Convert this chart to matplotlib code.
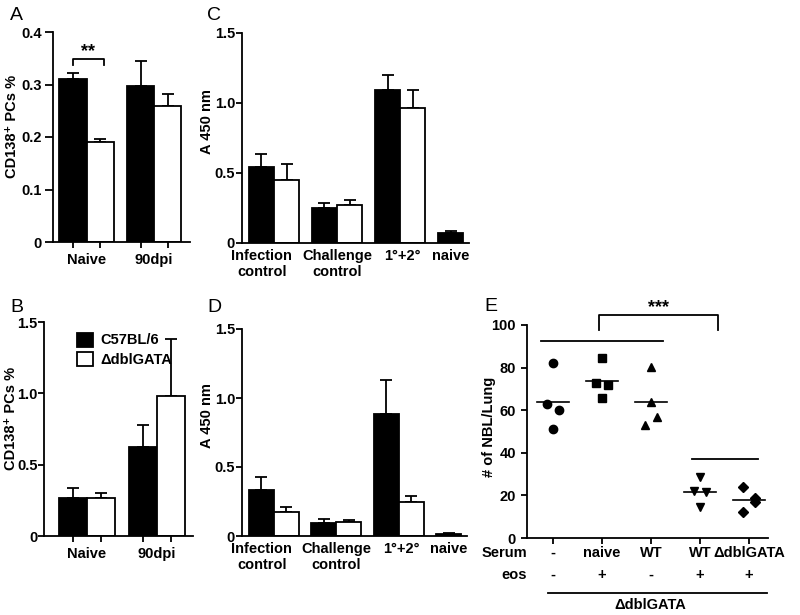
import numpy as np
import matplotlib.pyplot as plt
from matplotlib.patches import Patch

plt.rcParams['font.family'] = ['Liberation Sans', 'DejaVu Sans']
plt.rcParams['font.weight'] = 'bold'
plt.rcParams['axes.labelweight'] = 'bold'
plt.rcParams['font.size'] = 10

# ---- data ----
groups_ab = ['Naive', '90dpi']
a_c57 = [0.310, 0.298]
a_c57_sem = [0.011, 0.046]
a_dbl = [0.190, 0.260]
a_dbl_sem = [0.006, 0.022]

b_c57 = [0.266, 0.624]
b_c57_sem = [0.070, 0.154]
b_dbl = [0.266, 0.981]
b_dbl_sem = [0.035, 0.400]

groups_cd = ['Infection\ncontrol', 'Challenge\ncontrol', '1°+2°', 'naive']
c_c57 = [0.543, 0.250, 1.093, 0.071]
c_c57_sem = [0.093, 0.036, 0.107, 0.015]
c_dbl = [0.450, 0.271, 0.964]
c_dbl_sem = [0.114, 0.036, 0.129]

d_c57 = [0.333, 0.094, 0.884, 0.015]
d_c57_sem = [0.095, 0.029, 0.246, 0.005]
d_dbl = [0.174, 0.101, 0.246]
d_dbl_sem = [0.036, 0.015, 0.044]

serum = ['-', 'naive', 'WT', 'WT', 'ΔdblGATA']
eos = ['-', '+', '-', '+', '+']
e_vals = [
    [82.0, 62.8, 60.2, 51.1],
    [84.7, 72.8, 71.9, 65.9],
    [80.5, 63.9, 56.9, 53.1],
    [28.6, 22.3, 21.7, 14.5],
    [24.1, 18.9, 16.9, 12.1],
]
e_mid = [64.0, 73.9, 63.9, 21.4, 18.0]
e_marks = ['o', 's', '^', 'v', 'D']
e_jit = [
    [0, -0.12, 0.12, 0],
    [0, -0.12, 0.12, 0],
    [0, 0, 0.12, -0.12],
    [0, -0.13, 0.13, 0],
    [-0.13, 0.13, 0.13, -0.13],
]

W, H = 800, 615
fig = plt.figure(figsize=(8, 6.15), dpi=100)


def ax_px(l, t, r, b):
    return fig.add_axes([l / W, 1 - b / H, (r - l) / W, (b - t) / H])


def style(ax):
    for s in ['top', 'right']:
        ax.spines[s].set_visible(False)
    for s in ['left', 'bottom']:
        ax.spines[s].set_linewidth(1.3)
    ax.tick_params(width=1.3, length=4.5, labelsize=10.5)


def bars(ax, xs, vals, sems, color):
    ax.bar(xs, vals, width=1.0, color=color, edgecolor='black', linewidth=1.3, zorder=2)
    ax.errorbar(xs, vals, yerr=[np.zeros(len(vals)), sems], fmt='none', ecolor='black',
                elinewidth=1.3, capsize=4.5, capthick=1.3, zorder=1)


# ---- A ----
axA = ax_px(53, 32, 190, 242)
xk = np.array([0, 2.5])
bars(axA, xk, a_c57, a_c57_sem, 'black')
bars(axA, xk + 1, a_dbl, a_dbl_sem, 'white')
axA.set_xlim(-0.74, 4.33)
axA.set_ylim(0, 0.4)
axA.set_yticks([0, 0.1, 0.2, 0.3, 0.4], ['0', '0.1', '0.2', '0.3', '0.4'])
axA.set_xticks([0, 1, 2.5, 3.5], ['', '', '', ''])
axA.set_xticks(xk + 0.5, groups_ab, minor=True)
style(axA)
axA.tick_params(axis='y', length=6, pad=2)
axA.tick_params(axis='x', which='minor', length=0, pad=8, labelsize=10.5)
axA.set_ylabel('CD138⁺ PCs %', fontsize=10.5)
axA.yaxis.set_label_coords(-0.245, 0.55)
axA.plot([0, 0, 1.15, 1.15], [0.337, 0.349, 0.349, 0.337], color='black', lw=1.3, clip_on=False)
axA.text(0.57, 0.347, '**', ha='center', va='bottom', fontsize=13)

# ---- B ----
axB = ax_px(44, 322, 193, 536)
bars(axB, xk, b_c57, b_c57_sem, 'black')
bars(axB, xk + 1, b_dbl, b_dbl_sem, 'white')
axB.set_xlim(-1.04, 4.29)
axB.set_ylim(0, 1.5)
axB.set_yticks([0, 0.5, 1.0, 1.5], ['0', '0.5', '1.0', '1.5'])
axB.set_xticks([0, 1, 2.5, 3.5], ['', '', '', ''])
axB.set_xticks(xk + 0.5, groups_ab, minor=True)
style(axB)
axB.tick_params(axis='y', length=4.5, pad=0)
axB.tick_params(axis='x', which='minor', length=0, pad=8, labelsize=10.5)
axB.set_ylabel('CD138⁺ PCs %', fontsize=10.5)
axB.yaxis.set_label_coords(-0.172, 0.55)
axB.legend([Patch(facecolor='black', edgecolor='black', lw=1.3),
            Patch(facecolor='white', edgecolor='black', lw=1.3)],
           ['C57BL/6', 'ΔdblGATA'], loc='upper left', bbox_to_anchor=(0.17, 0.985),
           frameon=False, borderpad=0, handlelength=1.1, handleheight=1.1,
           handletextpad=0.5, labelspacing=0.3, prop={'weight': 'bold', 'size': 10.5})

# ---- C, D ----
xcd = np.array([0, 2.5, 5.0, 7.5])
lab_cd = [0.02, 3.0, 5.6, 7.5]
for (t, b, r), c57, c57s, dbl, dbls in [((33, 243, 469), c_c57, c_c57_sem, c_dbl, c_dbl_sem),
                                         ((329, 536, 467), d_c57, d_c57_sem, d_dbl, d_dbl_sem)]:
    ax = ax_px(242, t, r, b)
    bars(ax, xcd, c57, c57s, 'black')
    bars(ax, xcd[:3] + 1, dbl, dbls, 'white')
    ax.set_xlim(-0.77, 8.23)
    ax.set_ylim(0, 1.5)
    ax.set_yticks([0, 0.5, 1.0, 1.5], ['0', '0.5', '1.0', '1.5'])
    ax.set_xticks(lab_cd, groups_cd)
    style(ax)
    ax.tick_params(axis='y', length=4, pad=1)
    ax.tick_params(axis='x', length=0, pad=4, labelsize=10.5)
    ax.set_ylabel('A 450 nm', fontsize=10.5)
    ax.yaxis.set_label_coords(-0.123, 0.58)

# ---- E ----
axE = ax_px(527, 325, 768, 538)
for i, vals in enumerate(e_vals):
    axE.plot(i + np.array(e_jit[i]), vals, linestyle='none', marker=e_marks[i],
             color='black', markersize=6 if e_marks[i] != 'D' else 5, clip_on=False)
    axE.plot([i - 0.33, i + 0.33], [e_mid[i], e_mid[i]], color='black', lw=1.2)
axE.set_xlim(-0.53, 4.39)
axE.set_ylim(0, 100)
axE.set_yticks([0, 20, 40, 60, 80, 100])
axE.set_xticks(range(5), [''] * 5)
style(axE)
axE.set_ylabel('# of NBL/Lung', fontsize=10.5)
axE.yaxis.set_label_coords(-0.13, 0.52)
axE.plot([-0.24, 2.24], [92.7, 92.7], color='black', lw=1.3)
axE.plot([2.84, 4.18], [37.2, 37.2], color='black', lw=1.3)
axE.plot([0.94, 0.94, 3.37, 3.37], [97.6, 104.7, 104.7, 97.6], color='black', lw=1.3, clip_on=False)
axE.text(2.15, 104.0, '***', ha='center', va='bottom', fontsize=13)
tr = axE.get_xaxis_transform()
axE.text(0.0, -0.07, 'Serum', transform=axE.transAxes, ha='right', va='center', fontsize=10.5)
axE.text(0.0, -0.174, 'eos', transform=axE.transAxes, ha='right', va='center', fontsize=10.5)
for i in range(5):
    axE.text(i, -0.07, serum[i], transform=tr, ha='center', va='center', fontsize=10.5)
    axE.text(i, -0.174, eos[i], transform=tr, ha='center', va='center', fontsize=10.5)
axE.plot([-0.1, 4.37], [-0.258, -0.258], transform=tr, color='black', lw=1.3, clip_on=False)
axE.text(1.98, -0.315, 'ΔdblGATA', transform=tr, ha='center', va='center', fontsize=10.5)

# panel letters
for lab, x, y in [('A', 10, 20), ('B', 10, 312), ('C', 207, 20), ('D', 207, 312), ('E', 484, 311)]:
    fig.text(x / W, 1 - y / H, lab, fontsize=14, fontweight='normal', va='baseline')

fig.savefig('out.png', dpi=100)
